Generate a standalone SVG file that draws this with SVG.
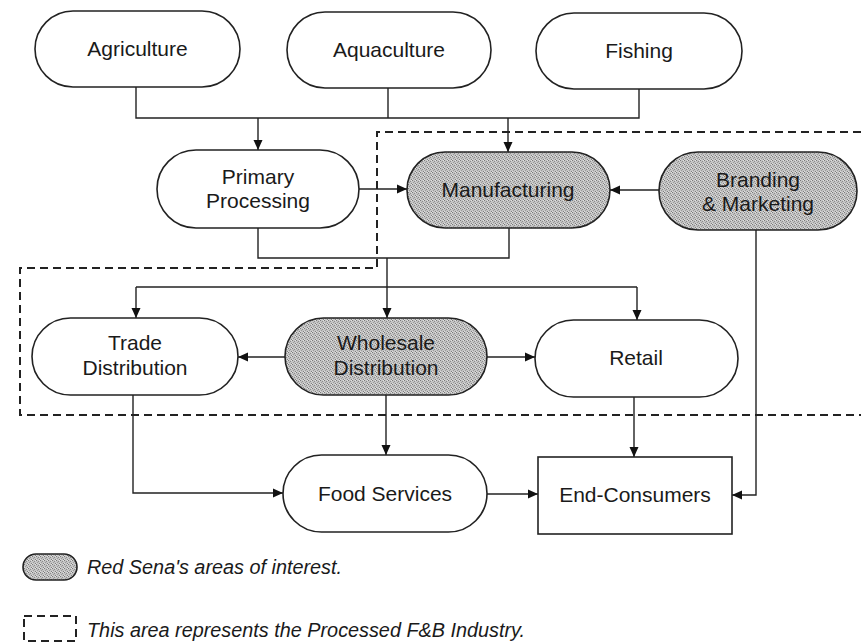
<svg xmlns="http://www.w3.org/2000/svg" width="861" height="643" viewBox="0 0 861 643">
  <defs>
    <pattern id="stipple" width="4" height="4" patternUnits="userSpaceOnUse">
      <rect width="4" height="4" fill="#c4c4c4"/>
      <rect x="0" y="0" width="1" height="1" fill="#7a7a7a"/>
      <rect x="2" y="1" width="1" height="1" fill="#8c8c8c"/>
      <rect x="1" y="2" width="1" height="1" fill="#9a9a9a"/>
      <rect x="3" y="3" width="1" height="1" fill="#808080"/>
      <rect x="3" y="0" width="1" height="1" fill="#e2e2e2"/>
      <rect x="0" y="3" width="1" height="1" fill="#dddddd"/>
    </pattern>
    <marker id="arrow" viewBox="0 0 10 10" refX="10" refY="5" markerWidth="10" markerHeight="10" markerUnits="userSpaceOnUse" orient="auto">
      <path d="M0,0.5 L10,5 L0,9.5 z" fill="#111"/>
    </marker>
  </defs>
  <style>
    .node { fill: #ffffff; stroke: #222; stroke-width: 1.6; }
    .hl { fill: url(#stipple); stroke: #222; stroke-width: 1.6; }
    .lbl { font-family: "Liberation Sans", Arial, sans-serif; font-size: 21px; fill: #1a1a1a; text-anchor: middle; }
    .conn { fill: none; stroke: #222; stroke-width: 1.4; }
    .arr { marker-end: url(#arrow); }
    .zone { fill: none; stroke: #222; stroke-width: 2; stroke-dasharray: 8 5; }
    .note { font-family: "Liberation Sans", Arial, sans-serif; font-size: 20px; font-style: italic; fill: #1a1a1a; }
  </style>

  <rect width="861" height="643" fill="#ffffff"/>

  <!-- processed F&B industry boundary -->
  <path class="zone" d="M861 132 H377 V268 H20 V415 H861"/>

  <!-- connectors -->
  <g id="connectors">
    <path class="conn" d="M136 87 V118 H639 V89"/>
    <path class="conn" d="M388 88 V118"/>
    <path class="conn arr" d="M258 118 V150"/>
    <path class="conn arr" d="M508 118 V152"/>
    <path class="conn arr" d="M359 189 H407"/>
    <path class="conn arr" d="M659 190 H610"/>
    <path class="conn" d="M258 228 V258 H509 V228"/>
    <path class="conn arr" d="M387 258 V318"/>
    <path class="conn" d="M136 287 H637"/>
    <path class="conn arr" d="M136 287 V318"/>
    <path class="conn arr" d="M637 287 V320"/>
    <path class="conn arr" d="M285 357 H238"/>
    <path class="conn arr" d="M487 357 H535"/>
    <path class="conn arr" d="M133 395 V493 H283"/>
    <path class="conn arr" d="M386 395 V455"/>
    <path class="conn arr" d="M634 397 V457"/>
    <path class="conn arr" d="M487 494 H538"/>
    <path class="conn arr" d="M756 230 V495 H732"/>
  </g>

  <g id="agriculture">
    <rect class="node" x="35" y="11" width="205" height="76" rx="38"/>
    <text class="lbl" x="137.5" y="56">Agriculture</text>
  </g>
  <g id="aquaculture">
    <rect class="node" x="287" y="12" width="204" height="76" rx="38"/>
    <text class="lbl" x="389" y="57">Aquaculture</text>
  </g>
  <g id="fishing">
    <rect class="node" x="536" y="13" width="206" height="76" rx="38"/>
    <text class="lbl" x="639" y="58">Fishing</text>
  </g>

  <g id="primary-processing">
    <rect class="node" x="157" y="150" width="202" height="78" rx="39"/>
    <text class="lbl" x="258" y="184">Primary</text>
    <text class="lbl" x="258" y="208">Processing</text>
  </g>
  <g id="manufacturing">
    <rect class="hl" x="407" y="152" width="203" height="76" rx="38"/>
    <text class="lbl" x="508" y="197">Manufacturing</text>
  </g>
  <g id="branding-marketing">
    <rect class="hl" x="659" y="152" width="198" height="78" rx="39"/>
    <text class="lbl" x="758" y="187">Branding</text>
    <text class="lbl" x="758" y="211">&amp; Marketing</text>
  </g>

  <g id="trade-distribution">
    <rect class="node" x="32" y="318" width="206" height="77" rx="38.5"/>
    <text class="lbl" x="135" y="350">Trade</text>
    <text class="lbl" x="135" y="375">Distribution</text>
  </g>
  <g id="wholesale-distribution">
    <rect class="hl" x="285" y="318" width="202" height="77" rx="38.5"/>
    <text class="lbl" x="386" y="350">Wholesale</text>
    <text class="lbl" x="386" y="375">Distribution</text>
  </g>
  <g id="retail">
    <rect class="node" x="535" y="320" width="203" height="77" rx="38.5"/>
    <text class="lbl" x="636" y="365">Retail</text>
  </g>

  <g id="food-services">
    <rect class="node" x="283" y="455" width="204" height="77" rx="38.5"/>
    <text class="lbl" x="385" y="501">Food Services</text>
  </g>
  <g id="end-consumers">
    <rect class="node" x="538" y="457" width="194" height="77"/>
    <text class="lbl" x="635" y="502">End-Consumers</text>
  </g>

  <!-- legend -->
  <g id="legend">
    <rect class="hl" x="23" y="554" width="54" height="26" rx="13"/>
    <text class="note" x="87" y="574" textLength="255" lengthAdjust="spacingAndGlyphs">Red Sena's areas of interest.</text>
    <rect class="zone" x="24" y="616" width="52" height="25" stroke-dasharray="9 8"/>
    <text class="note" x="87" y="637" textLength="438" lengthAdjust="spacingAndGlyphs">This area represents the Processed F&amp;B Industry.</text>
  </g>
</svg>
